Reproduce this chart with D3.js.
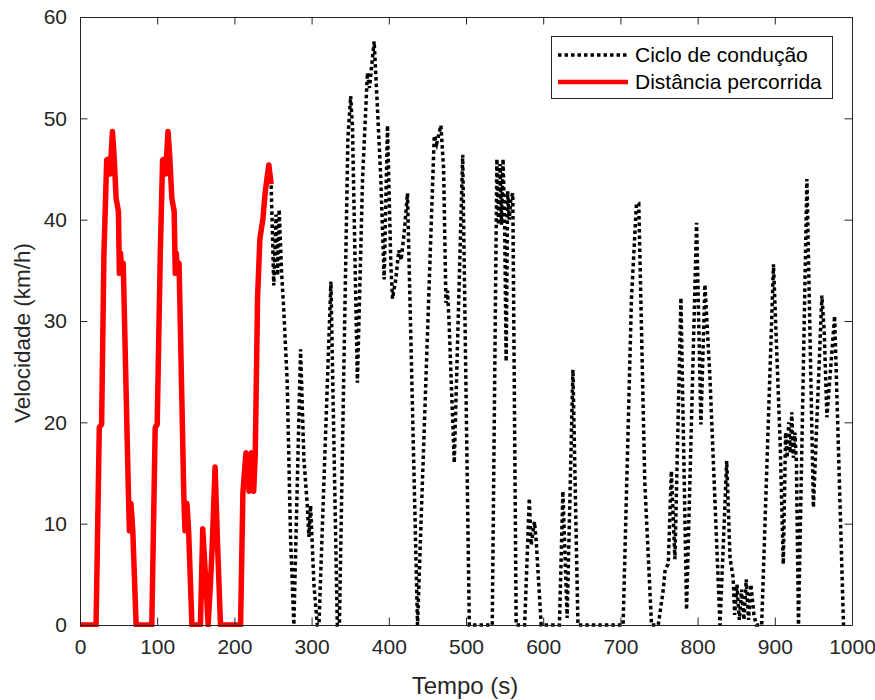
<!DOCTYPE html>
<html>
<head>
<meta charset="utf-8">
<script src="https://cdn.jsdelivr.net/npm/d3@7"></script>
<style>
  html, body { margin: 0; padding: 0; background: #fff; }
  svg { display: block; font-family: "Liberation Sans", Arial, Helvetica, sans-serif; }
</style>
</head>
<body>
<svg id="chart" width="875" height="700"></svg>
<script>
// ---- data ----
const timeS = [
  0, 20.8, 25, 28, 31, 34.6, 37, 39, 42, 44, 46.8, 49.8, 51, 52.5, 54, 56, 62.8, 64, 66, 68.4, 72.7,
  93, 97.4, 100, 104, 107, 109.5, 111, 114, 116, 119, 122, 123.4, 124.7, 126, 128.3, 134.5, 136, 138.5, 140.7, 145,
  156, 159, 163, 166, 169, 171, 175, 178, 182,
  208, 211, 215, 219, 222, 225, 227, 230, 233, 237, 240, 244.6, 247.6,
  251, 254, 256, 258, 261, 264, 268.4, 272.7, 277,
  285.7, 290, 294.4, 296.5, 298.7, 303, 307.4, 309.5, 325, 333.3,
  336, 347, 350.6, 353, 359.3, 366, 372.3, 375, 381, 385.3, 389.6, 394, 398.3, 402.6, 404.8, 409, 413, 416, 419.9, 424.2, 437.2,
  458.9, 462, 467.5, 471, 474, 476, 478, 484.8, 495.7, 504.3,
  534, 540, 542, 544, 546, 548, 550, 552, 554, 556, 558, 560.6, 565,
  576, 582, 584.4, 588.7, 591, 597.4,
  621, 625.5, 631, 638.5, 645,
  703.5, 714.3, 720.8, 723.8, 731.6, 740.3,
  749, 755.4, 758, 762, 766, 770.6, 778.4, 785.7, 798.7, 804.3, 809.5, 816, 829,
  837.7, 842, 846, 848, 851, 854, 857, 860, 863, 866, 869, 873, 876,
  883, 898.3, 907, 911, 914, 916, 918, 920, 922, 924, 926, 928, 930.7,
  941.6, 950, 961, 964, 967.5, 977.5, 989
];
const speedKmh = [
  0, 0, 19.5, 19.8, 36.7, 45.9, 46, 44.5, 48.7, 46.5, 42.1, 40.8, 34.7, 36.7, 35, 35.7, 12.7, 9.3, 12, 9.3, 0,
  0, 19.5, 19.8, 36.7, 45.9, 46, 44.5, 48.7, 46.5, 42.1, 40.8, 34.7, 36.7, 35, 35.7, 12.7, 9.3, 12, 9.3, 0,
  0, 9.5, 4.2, 0, 4.2, 7.3, 15.6, 8.3, 0,
  0, 13, 17, 13.2, 17, 13.2, 16.8, 32.3, 38.1, 40.1, 42.8, 45.4, 43.5,
  33.5, 40.5, 34.5, 41, 35, 31, 24, 8.7, 0,
  27.2, 16.4, 11.8, 8.7, 11.8, 4, 0, 0, 33.9, 0,
  0, 48, 52.2, 49, 23.9, 44, 54.5, 53, 57.6, 51, 44.1, 34.1, 49.3, 35.7, 32.2, 34.1, 37, 36, 38.7, 42.6, 0,
  48.3, 47.5, 49.3, 45, 31.8, 33, 30, 16, 46.4, 0,
  0, 46, 39.5, 45.5, 39.5, 46, 40, 26, 42.8, 40, 42, 42.6, 0,
  0, 12.5, 7.9, 10.2, 8.2, 0,
  0, 13.2, 0.7, 25.2, 0,
  0, 32.2, 41.6, 41.6, 14.1, 0,
  0, 3.4, 5.5, 6, 15.2, 6.5, 32.3, 1.5, 39.7, 19.8, 33.6, 24.4, 0,
  16.2, 6.6, 4.7, 1, 4, 0.5, 3.5, 0.5, 4.5, 0.5, 4, 1, 0,
  0, 35.6, 17.8, 6, 19, 16.5, 20, 17, 21, 16.5, 19, 16, 0,
  44, 11.6, 32.5, 29, 20.5, 30.5, 0
];
const distanceEndS = 247.6;           // red segment covers the cycle up to this time
const xTicks = [0, 100, 200, 300, 400, 500, 600, 700, 800, 900, 1000];
const yTicks = [0, 10, 20, 30, 40, 50, 60];
const seriesNames = ["Ciclo de condução", "Distância percorrida"];
const xLabel = "Tempo (s)";
const yLabel = "Velocidade (km/h)";

// ---- layout ----
const svg = d3.select("#chart");
const mLeft = 80, mRight = 852, mTop = 17, mBottom = 625;
const axisColor = "#262626";

const x = d3.scaleLinear().domain([0, 1000]).range([mLeft, mRight]);
const y = d3.scaleLinear().domain([0, 60]).range([mBottom, mTop]);

const cycle = timeS.map((t, i) => ({ t, v: speedKmh[i] }));
const driven = cycle.filter(d => d.t <= distanceEndS);

svg.append("defs").append("clipPath").attr("id", "clip")
  .append("rect").attr("x", mLeft).attr("y", mTop - 2).attr("width", mRight - mLeft).attr("height", mBottom - mTop + 4);

const line = d3.line().x(d => x(d.t)).y(d => y(d.v));

const plot = svg.append("g").attr("clip-path", "url(#clip)");
plot.append("path").datum(cycle)
  .attr("d", line).attr("fill", "none")
  .attr("stroke", "#000").attr("stroke-width", 3.5)
  .attr("stroke-dasharray", "3.5 3").attr("stroke-linejoin", "miter");
plot.append("path").datum(driven)
  .attr("d", line).attr("fill", "none")
  .attr("stroke", "#ff0000").attr("stroke-width", 5.5)
  .attr("stroke-linejoin", "round");

// ---- axes (MATLAB-style box with inward ticks) ----
const tickLen = 7.5;
const fmt = d3.format("d");
const xAxisB = d3.axisBottom(x).tickValues(xTicks).tickFormat(fmt).tickSizeInner(-tickLen).tickSizeOuter(0).tickPadding(14);
const xAxisT = d3.axisTop(x).tickValues(xTicks).tickSizeInner(-tickLen).tickSizeOuter(0).tickFormat("");
const yAxisL = d3.axisLeft(y).tickValues(yTicks).tickFormat(fmt).tickSizeInner(-tickLen).tickSizeOuter(0).tickPadding(13);
const yAxisR = d3.axisRight(y).tickValues(yTicks).tickSizeInner(-tickLen).tickSizeOuter(0).tickFormat("");

function style(g) {
  g.select(".domain").attr("stroke", axisColor).attr("stroke-width", 1);
  g.selectAll(".tick line").attr("stroke", axisColor).attr("stroke-width", 1);
  g.selectAll(".tick text").attr("fill", axisColor).attr("font-size", 21)
    .attr("font-family", "'Liberation Sans', Arial, sans-serif");
}
svg.append("g").attr("transform", `translate(0,${mBottom})`).call(xAxisB).call(style);
svg.append("g").attr("transform", `translate(0,${mTop})`).call(xAxisT).call(style);
svg.append("g").attr("transform", `translate(${mLeft},0)`).call(yAxisL).call(style);
svg.append("g").attr("transform", `translate(${mRight},0)`).call(yAxisR).call(style);

// axis labels
svg.append("text").attr("x", 465).attr("y", 694)
  .attr("text-anchor", "middle").attr("font-size", 24).attr("fill", axisColor).text(xLabel);
svg.append("text").attr("transform", `translate(30,333) rotate(-90)`)
  .attr("text-anchor", "middle").attr("font-size", 22.5).attr("fill", axisColor).text(yLabel);

// ---- legend ----
const lg = svg.append("g");
lg.append("rect").attr("x", 551.5).attr("y", 36.5).attr("width", 281).attr("height", 62)
  .attr("fill", "#fff").attr("stroke", axisColor).attr("stroke-width", 1);
const rows = [
  { name: seriesNames[0], stroke: "#000", w: 3.5, dash: "3.5 3", yy: 55 },
  { name: seriesNames[1], stroke: "#ff0000", w: 4.5, dash: null, yy: 82 }
];
rows.forEach(r => {
  lg.append("line").attr("x1", 558).attr("x2", 628).attr("y1", r.yy).attr("y2", r.yy)
    .attr("stroke", r.stroke).attr("stroke-width", r.w).attr("stroke-dasharray", r.dash);
  lg.append("text").attr("x", 635).attr("y", r.yy).attr("dy", "0.35em")
    .attr("font-size", 21).attr("fill", "#000").text(r.name);
});
</script>
</body>
</html>
